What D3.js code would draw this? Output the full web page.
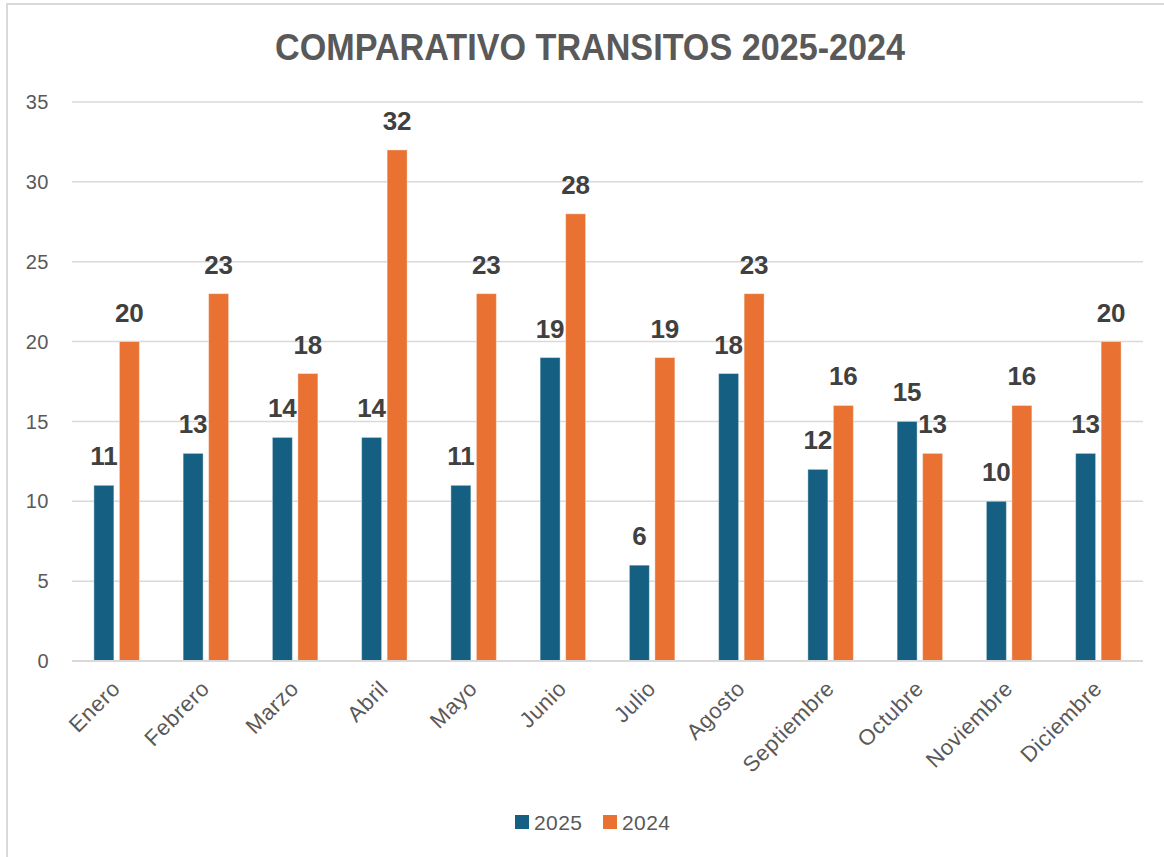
<!DOCTYPE html>
<html><head><meta charset="utf-8">
<script src="https://cdn.jsdelivr.net/npm/d3@7"></script>
<style>body{margin:0;background:#fff}svg{display:block}text{font-family:"Liberation Sans",Arial,sans-serif}</style>
</head><body>
<svg id="c" width="1164" height="857"></svg>
<script>
const months = ["Enero","Febrero","Marzo","Abril","Mayo","Junio","Julio","Agosto","Septiembre","Octubre","Noviembre","Diciembre"];
const series = ["2025","2024"];
const values2025 = [11,13,14,14,11,19,6,18,12,15,10,13];
const values2024 = [20,23,18,32,23,28,19,23,16,13,16,20];
const yTicks = [0,5,10,15,20,25,30,35];
const colors = ["#156082","#E97132"];
const title = "COMPARATIVO TRANSITOS 2025-2024";

const svg = d3.select("#c");
svg.append("rect").attr("x",7).attr("y",4).attr("width",1180).attr("height",880)
  .attr("fill","#fff").attr("stroke","#d9d9d9").attr("stroke-width",2);

const x0 = d3.scaleBand().domain(months).range([72,1143]).padding(0);
const x1 = d3.scaleBand().domain(series).range([0,x0.bandwidth()]).paddingInner(0.216).paddingOuter(0.858);
const y = d3.scaleLinear().domain([0,35]).range([661,102]);

// gridlines
svg.append("g").selectAll("line").data(yTicks).join("line")
  .attr("x1",72).attr("x2",1143).attr("y1",d=>y(d)).attr("y2",d=>y(d))
  .attr("stroke","#d9d9d9").attr("stroke-width",1.5);

// y labels
svg.append("g").selectAll("text").data(yTicks).join("text")
  .attr("x",49).attr("y",d=>y(d)).attr("dy","0.36em").attr("text-anchor","end")
  .attr("font-size",20).attr("letter-spacing",0.5).attr("fill","#595959").text(d=>d);

const data = months.map((m,i)=>({m, vals:[values2025[i],values2024[i]]}));
const g = svg.append("g").selectAll("g").data(data).join("g")
  .attr("transform",d=>`translate(${x0(d.m)},0)`);
g.selectAll("rect").data(d=>d.vals.map((v,j)=>({s:series[j],v,j}))).join("rect")
  .attr("x",d=>x1(d.s)).attr("width",x1.bandwidth())
  .attr("y",d=>y(d.v)).attr("height",d=>y(0)-y(d.v))
  .attr("fill",d=>colors[d.j]).attr("stroke","#fff").attr("stroke-opacity",0.4).attr("stroke-width",1);
g.selectAll("text").data(d=>d.vals.map((v,j)=>({s:series[j],v,j}))).join("text")
  .attr("x",d=>x1(d.s)+x1.bandwidth()/2).attr("y",d=>y(d.v)-20)
  .attr("text-anchor","middle").attr("font-size",26).attr("font-weight","bold")
  .attr("fill","#404040").text(d=>d.v);

// baseline
svg.append("line").attr("x1",72).attr("x2",1143).attr("y1",y(0)).attr("y2",y(0))
  .attr("stroke","#d9d9d9").attr("stroke-width",2);

// x labels
svg.append("g").selectAll("text").data(months).join("text")
  .attr("transform",d=>`translate(${x0(d)+x0.bandwidth()/2+5},${690}) rotate(-45)`)
  .attr("text-anchor","end").attr("font-size",22).attr("letter-spacing",0.6).attr("fill","#595959").text(d=>d);

// title
svg.append("text").attr("x",590).attr("y",60).attr("text-anchor","middle")
  .attr("font-size",37).attr("font-weight","bold").attr("fill","#595959")
  .attr("textLength",630).attr("lengthAdjust","spacingAndGlyphs").text(title);

// legend
const legX = [515,603];
const lg = svg.append("g").selectAll("g").data(series).join("g")
  .attr("transform",(d,i)=>`translate(${legX[i]},815)`);
lg.append("rect").attr("width",14).attr("height",14).attr("fill",(d,i)=>colors[i]);
lg.append("text").attr("x",19).attr("y",7).attr("dy","0.36em").attr("font-size",21).attr("letter-spacing",0.4).attr("fill","#595959").text(d=>d);
</script>
</body></html>
